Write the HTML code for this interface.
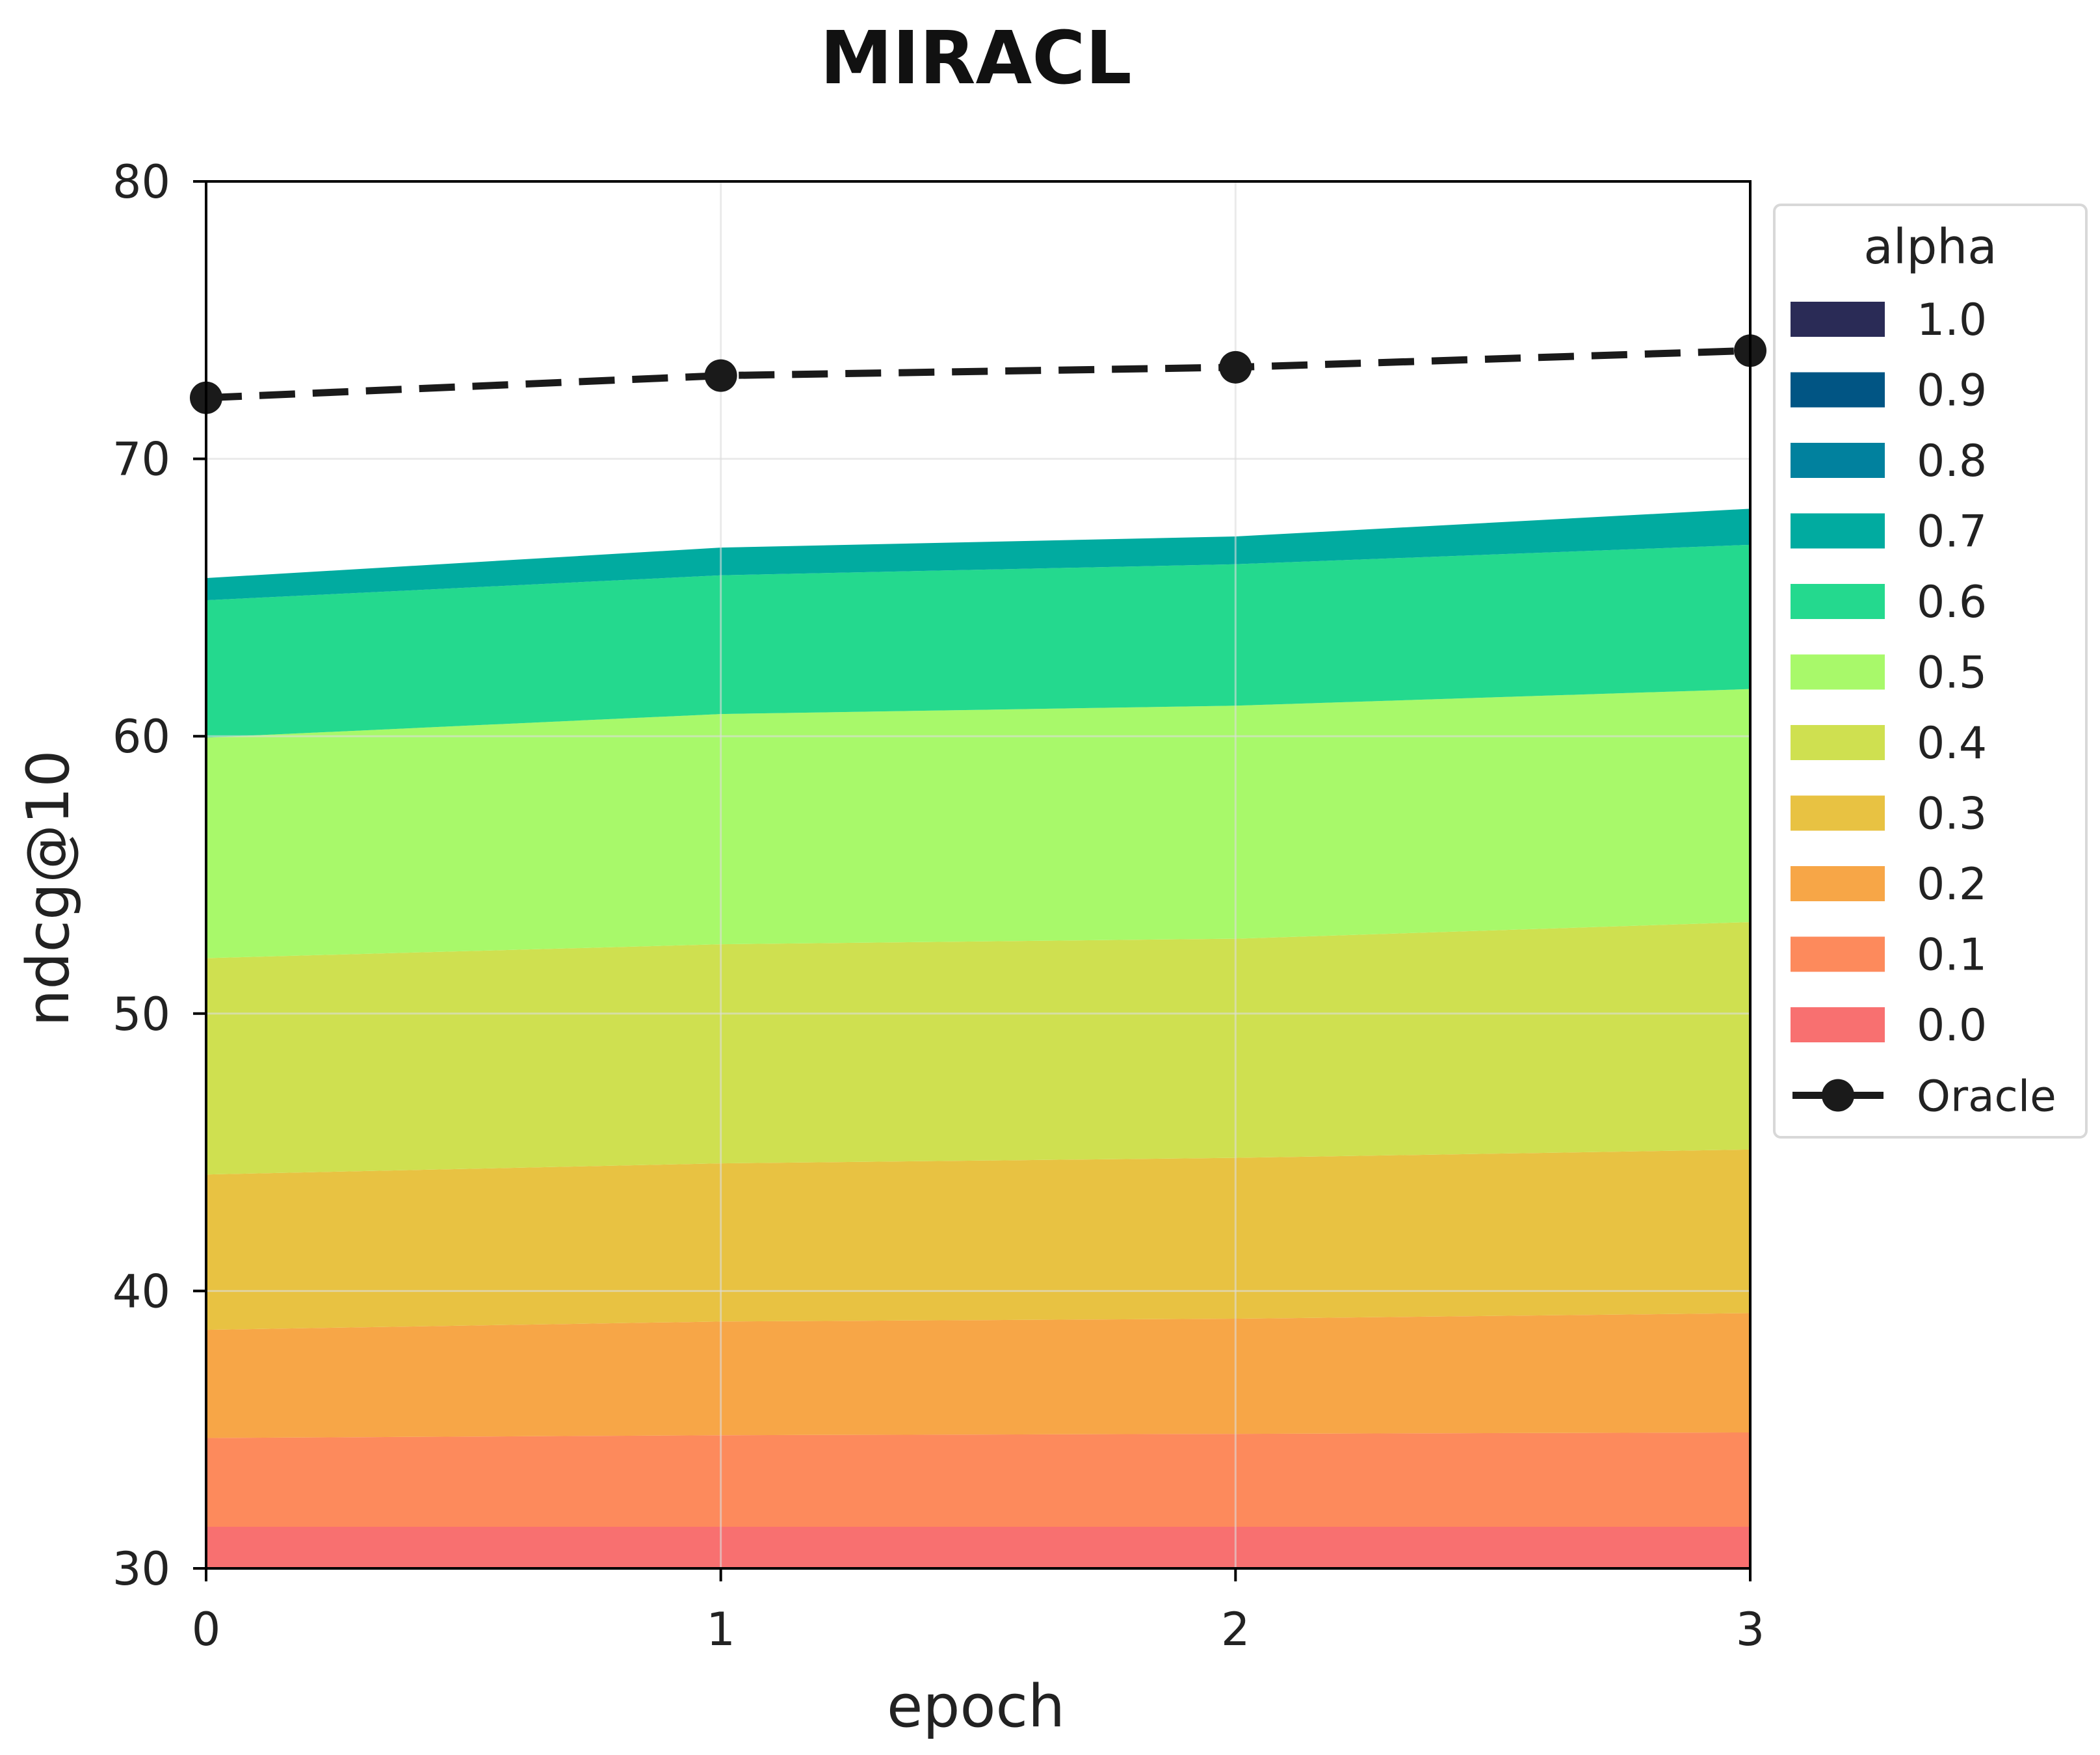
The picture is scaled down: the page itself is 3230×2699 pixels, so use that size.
<!DOCTYPE html>
<html><head><meta charset="utf-8">
<style>
html,body{margin:0;padding:0;background:#fff;}
svg{display:block;font-family:"DejaVu Sans","Liberation Sans",sans-serif;}
</style></head>
<body>
<svg id="chart" width="3230" height="2699" viewBox="0 0 3230 2699" xmlns="http://www.w3.org/2000/svg">
<rect width="3230" height="2699" fill="#fff"/>
<text x="1501" y="128" text-anchor="middle" font-size="112" font-weight="bold" fill="#111">MIRACL</text>
<g id="fills"></g>
<g id="grid"></g>
<g id="oracle"></g>
<rect x="317" y="279" width="2375" height="2133" fill="none" stroke="#000" stroke-width="4"/>
<g id="axes"></g>
<text x="1501" y="2655" text-anchor="middle" font-size="90" fill="#222">epoch</text>
<text transform="translate(105,1366) rotate(-90)" text-anchor="middle" font-size="90" fill="#222">ndcg@10</text>
<g id="legend"></g>
</svg>
<script>
const epochs = [0, 1, 2, 3];
const alphas = ["0.0","0.1","0.2","0.3","0.4","0.5","0.6","0.7","0.8","0.9","1.0"];
const colors = ["#f87070","#fd8a5c","#f7a647","#e8c242","#cfe050","#a8f96a","#24d98e","#01aba0","#01819e","#015584","#2a2b56"];
// cumulative top of each stacked layer
const top00 = [31.5, 31.5, 31.5, 31.5];
const top01 = [34.7, 34.8, 34.85, 34.9];
const top02 = [38.6, 38.9, 39.0, 39.2];
const top03 = [44.2, 44.6, 44.8, 45.1];
const top04 = [52.0, 52.5, 52.7, 53.3];
const top05 = [59.95, 60.8, 61.1, 61.7];
const top06 = [64.9, 65.8, 66.2, 66.9];
const top07 = [65.7, 66.8, 67.2, 68.2];
const top08 = [65.7, 66.8, 67.2, 68.2];
const top09 = [65.7, 66.8, 67.2, 68.2];
const top10 = [65.7, 66.8, 67.2, 68.2];
const oracle = [72.2, 73.0, 73.3, 73.9];
const yTicks = [30, 40, 50, 60, 70, 80];
const xTicks = [0, 1, 2, 3];

const tops = [top00,top01,top02,top03,top04,top05,top06,top07,top08,top09,top10];
const X0=317, X1=2692, Y0=2412, Y1=279;
const xs = v => X0 + (v - 0) / 3 * (X1 - X0);
const ys = v => Y0 - (v - 30) / 50 * (Y0 - Y1);
const NS = "http://www.w3.org/2000/svg";
function mk(tag, parent){ const e=document.createElementNS(NS,tag); document.getElementById(parent).appendChild(e); return e; }

for (let i=0;i<tops.length;i++){
  const lower = i===0 ? epochs.map(()=>30) : tops[i-1];
  const upper = tops[i];
  let d = "M" + epochs.map((e,j)=>xs(e)+","+ys(upper[j])).join(" L");
  d += " L" + epochs.slice().reverse().map((e,j)=>xs(e)+","+ys(lower[epochs.length-1-j])).join(" L") + " Z";
  const p = mk("path","fills");
  
  
  p.setAttribute("d", d); p.setAttribute("fill", colors[i]);
}
yTicks.forEach(t=>{
  const g = mk("line","grid");
  
  
  g.setAttribute("x1",X0); g.setAttribute("x2",X1); g.setAttribute("y1",ys(t)); g.setAttribute("y2",ys(t));
  g.setAttribute("stroke","#dcdcdc"); g.setAttribute("stroke-opacity","0.6"); g.setAttribute("stroke-width","3");
  const tk = mk("line","axes");
  
  
  tk.setAttribute("x1",X0-20); tk.setAttribute("x2",X0); tk.setAttribute("y1",ys(t)); tk.setAttribute("y2",ys(t));
  tk.setAttribute("stroke","#000"); tk.setAttribute("stroke-width","4");
  const tx = mk("text","axes");
  
  
  tx.setAttribute("x",X0-55); tx.setAttribute("y",ys(t)+25); tx.setAttribute("text-anchor","end");
  tx.setAttribute("font-size","70"); tx.setAttribute("fill","#222"); tx.textContent = t;
});
xTicks.forEach(t=>{
  const g = mk("line","grid");
  
  
  g.setAttribute("x1",xs(t)); g.setAttribute("x2",xs(t)); g.setAttribute("y1",Y1); g.setAttribute("y2",Y0);
  g.setAttribute("stroke","#dcdcdc"); g.setAttribute("stroke-opacity","0.6"); g.setAttribute("stroke-width","3");
  const tk = mk("line","axes");
  
  
  tk.setAttribute("x1",xs(t)); tk.setAttribute("x2",xs(t)); tk.setAttribute("y1",Y0); tk.setAttribute("y2",Y0+20);
  tk.setAttribute("stroke","#000"); tk.setAttribute("stroke-width","4");
  const tx = mk("text","axes");
  
  
  tx.setAttribute("x",xs(t)); tx.setAttribute("y",Y0+118); tx.setAttribute("text-anchor","middle");
  tx.setAttribute("font-size","70"); tx.setAttribute("fill","#222"); tx.textContent = t;
});
const ol = mk("polyline","oracle");


ol.setAttribute("points", epochs.map((e,j)=>xs(e)+","+ys(oracle[j])).join(" "));
ol.setAttribute("fill","none"); ol.setAttribute("stroke","#1a1a1a"); ol.setAttribute("stroke-width","11");
ol.setAttribute("stroke-dasharray","55 27");
epochs.forEach((e,j)=>{
  const c = mk("circle","oracle");
  
  
  c.setAttribute("cx",xs(e)); c.setAttribute("cy",ys(oracle[j])); c.setAttribute("r","25"); c.setAttribute("fill","#1a1a1a");
});
// legend
const lb = mk("rect","legend");


lb.setAttribute("x","2729"); lb.setAttribute("y","315"); lb.setAttribute("width","480"); lb.setAttribute("height","1434");
lb.setAttribute("rx","10"); lb.setAttribute("fill","#fff"); lb.setAttribute("stroke","#d8d8d8"); lb.setAttribute("stroke-width","4");
const lt = mk("text","legend");


lt.setAttribute("x","2969"); lt.setAttribute("y","405"); lt.setAttribute("text-anchor","middle");
lt.setAttribute("font-size","74"); lt.setAttribute("fill","#222"); lt.textContent = "alpha";
for (let k=0;k<11;k++){
  const i = 10-k; const cy = 491 + k*108.5;
  const r = mk("rect","legend");
  
  
  r.setAttribute("x","2754"); r.setAttribute("y",cy-27); r.setAttribute("width","145"); r.setAttribute("height","54"); r.setAttribute("fill",colors[i]);
  const t = mk("text","legend");
  
  
  t.setAttribute("x","2948"); t.setAttribute("y",cy+24); t.setAttribute("font-size","68"); t.setAttribute("fill","#222"); t.textContent = alphas[i];
}
const oy = 491 + 11*108.5;
const ll = mk("line","legend");


ll.setAttribute("x1","2757"); ll.setAttribute("x2","2897"); ll.setAttribute("y1",oy); ll.setAttribute("y2",oy);
ll.setAttribute("stroke","#1a1a1a"); ll.setAttribute("stroke-width","11");
const lc = mk("circle","legend");


lc.setAttribute("cx","2827"); lc.setAttribute("cy",oy); lc.setAttribute("r","25"); lc.setAttribute("fill","#1a1a1a");
const lo = mk("text","legend");


lo.setAttribute("x","2948"); lo.setAttribute("y",oy+24); lo.setAttribute("font-size","66"); lo.setAttribute("fill","#222"); lo.textContent = "Oracle";
</script>
</body></html>
